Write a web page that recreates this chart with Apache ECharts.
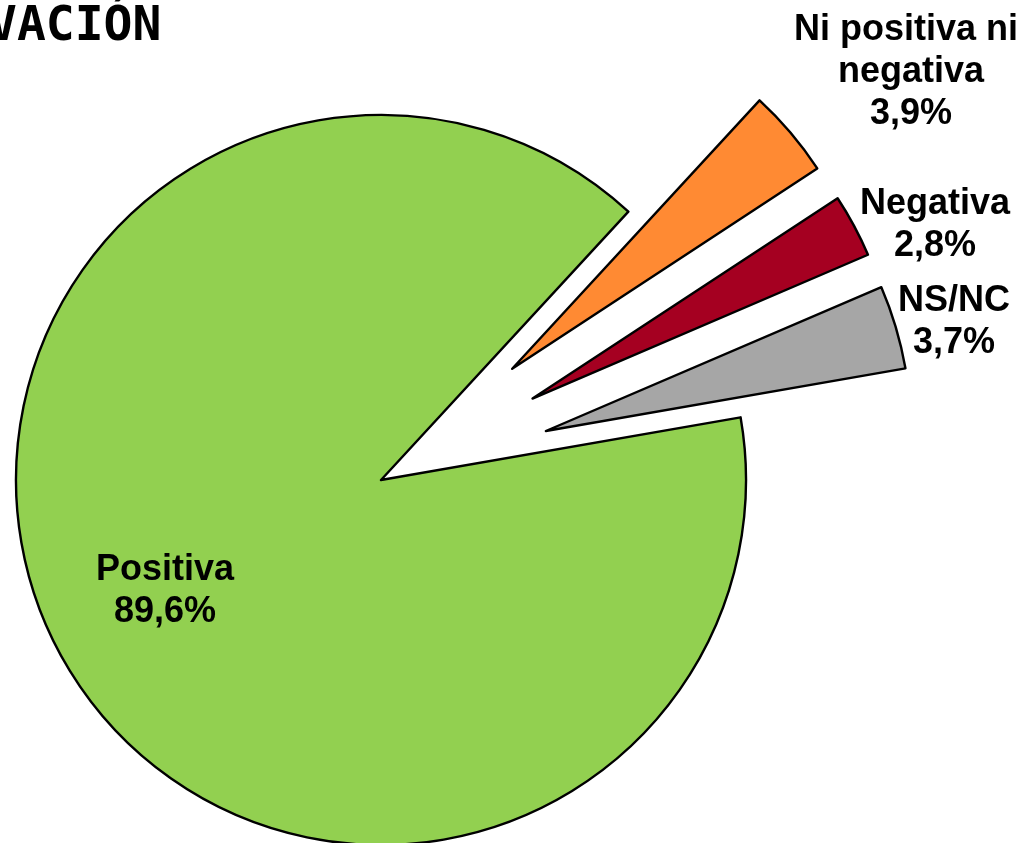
<!DOCTYPE html>
<html>
<head>
<meta charset="utf-8">
<script src="https://cdn.jsdelivr.net/npm/echarts@6/dist/echarts.min.js"></script>
<style>
html,body{margin:0;padding:0;background:#fff;}
#chart{width:1032px;height:843px;}
</style>
</head>
<body>
<div id="chart"></div>
<script>
const titleText = 'VACIÓN';
const categories = ['Ni positiva ni negativa', 'Negativa', 'NS/NC', 'Positiva'];
const values = [3.9, 2.8, 3.7, 89.6];
const colors = ['#FF8A33', '#A50021', '#A6A6A6', '#92D050'];
const exploded = [true, true, true, false];
const labelAnchors = [[911, 72], [935, 225], [954, 322], [165, 591]];

const chart = echarts.init(document.getElementById('chart'), null, {renderer: 'canvas'});

const fmtPct = v => v.toFixed(1).replace('.', ',') + '%';

const data = categories.map((name, i) => ({
  name: name,
  value: values[i],
  selected: exploded[i],
  itemStyle: {color: colors[i]}
}));

const labelGraphics = categories.map((name, i) => ({
  type: 'text',
  x: labelAnchors[i][0],
  y: labelAnchors[i][1],
  z: 100,
  silent: true,
  style: {
    text: name + '\n' + fmtPct(values[i]),
    align: 'center',
    verticalAlign: 'middle',
    fontFamily: '"Liberation Sans", Arial, sans-serif',
    fontWeight: 'bold',
    fontSize: 36,
    lineHeight: 42,
    width: 240,
    overflow: 'break',
    fill: '#000'
  }
}));

chart.setOption({
  animation: false,
  backgroundColor: '#ffffff',
  graphic: [{
    type: 'text',
    left: -12,
    top: 4,
    z: 100,
    silent: true,
    style: {
      text: titleText,
      font: 'bold 48px "DejaVu Sans Mono"',
      fill: '#000'
    }
  }].concat(labelGraphics),
  series: [{
    type: 'pie',
    z: 2,
    center: [381, 480],
    radius: 365,
    startAngle: 47.33,
    clockwise: true,
    selectedMode: 'multiple',
    selectedOffset: 172,
    avoidLabelOverlap: false,
    silent: true,
    itemStyle: {borderColor: '#000', borderWidth: 2.4},
    select: {itemStyle: {borderColor: '#000', borderWidth: 2.4}},
    emphasis: {disabled: true},
    label: {show: false},
    labelLine: {show: false},
    data: data
  }]
});
</script>
</body>
</html>
